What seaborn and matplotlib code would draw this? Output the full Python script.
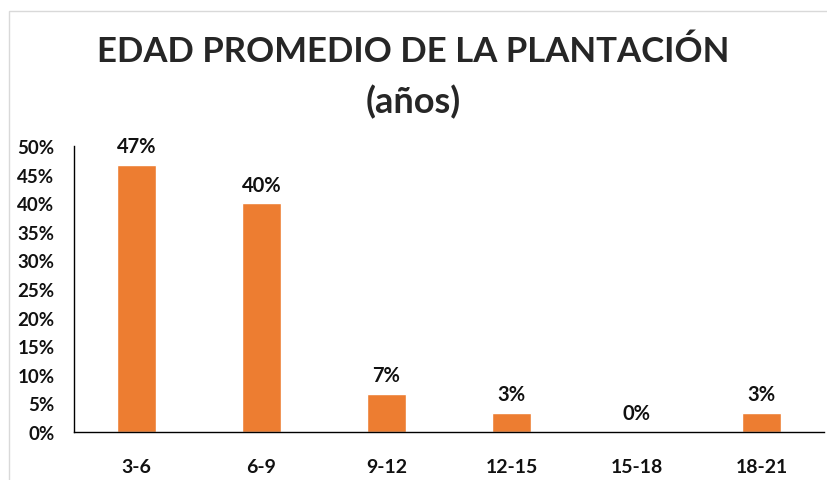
import matplotlib
matplotlib.use("Agg")
import matplotlib.pyplot as plt
import seaborn as sns
import pandas as pd
from matplotlib.ticker import PercentFormatter
from matplotlib.patches import Rectangle

# datos: rangos de edad de la plantación y proporción de fincas
rangos = ["3-6", "6-9", "9-12", "12-15", "15-18", "18-21"]
proporcion = [14/30, 12/30, 2/30, 1/30, 0.0, 1/30]
etiquetas = ["47%", "40%", "7%", "3%", "0%", "3%"]

df = pd.DataFrame({"rango": rangos, "proporcion": proporcion})

sns.set_style("white")
plt.rcParams["font.family"] = ["Lato", "DejaVu Sans"]

fig = plt.figure(figsize=(8.27, 4.81), dpi=100)
ax = fig.add_axes([74 / 827, 1 - 433 / 481, 750 / 827, 286 / 481])

sns.barplot(data=df, x="rango", y="proporcion", color="#ED7D31",
            width=0.31, saturation=1, ax=ax)

for i, (v, t) in enumerate(zip(proporcion, etiquetas)):
    ax.text(i, v + 0.015, t, ha="center", va="bottom",
            fontsize=14.5, fontweight="bold", color="#111111")

ax.set_ylim(0, 0.5)
ax.set_yticks([i * 0.05 for i in range(11)])
ax.yaxis.set_major_formatter(PercentFormatter(1.0, decimals=0))
ax.set_xlabel("")
ax.set_ylabel("")
ax.tick_params(axis="y", length=0, labelsize=13.5, pad=14)
ax.tick_params(axis="x", length=0, labelsize=14, pad=19)
for lab in ax.get_xticklabels() + ax.get_yticklabels():
    lab.set_fontweight("bold")
    lab.set_color("#111111")

sns.despine(ax=ax, top=True, right=True)
ax.spines["left"].set_color("black")
ax.spines["bottom"].set_color("black")
ax.spines["left"].set_linewidth(1.0)
ax.spines["bottom"].set_linewidth(1.0)

fig.text(0.5, 1 - 52 / 481, "EDAD PROMEDIO DE LA PLANTACIÓN",
         ha="center", va="center", fontsize=25, fontweight="bold")
fig.text(0.5, 1 - 102 / 481, "(años)",
         ha="center", va="center", fontsize=26, fontweight="bold")

# borde del área del gráfico
fig.patches.append(Rectangle((9 / 827, -0.01), 1.0, 1 - 12 / 481 + 0.01,
                             transform=fig.transFigure, fill=False,
                             edgecolor="#d9d9d9", linewidth=1.0))

fig.savefig("out.png", dpi=100)
